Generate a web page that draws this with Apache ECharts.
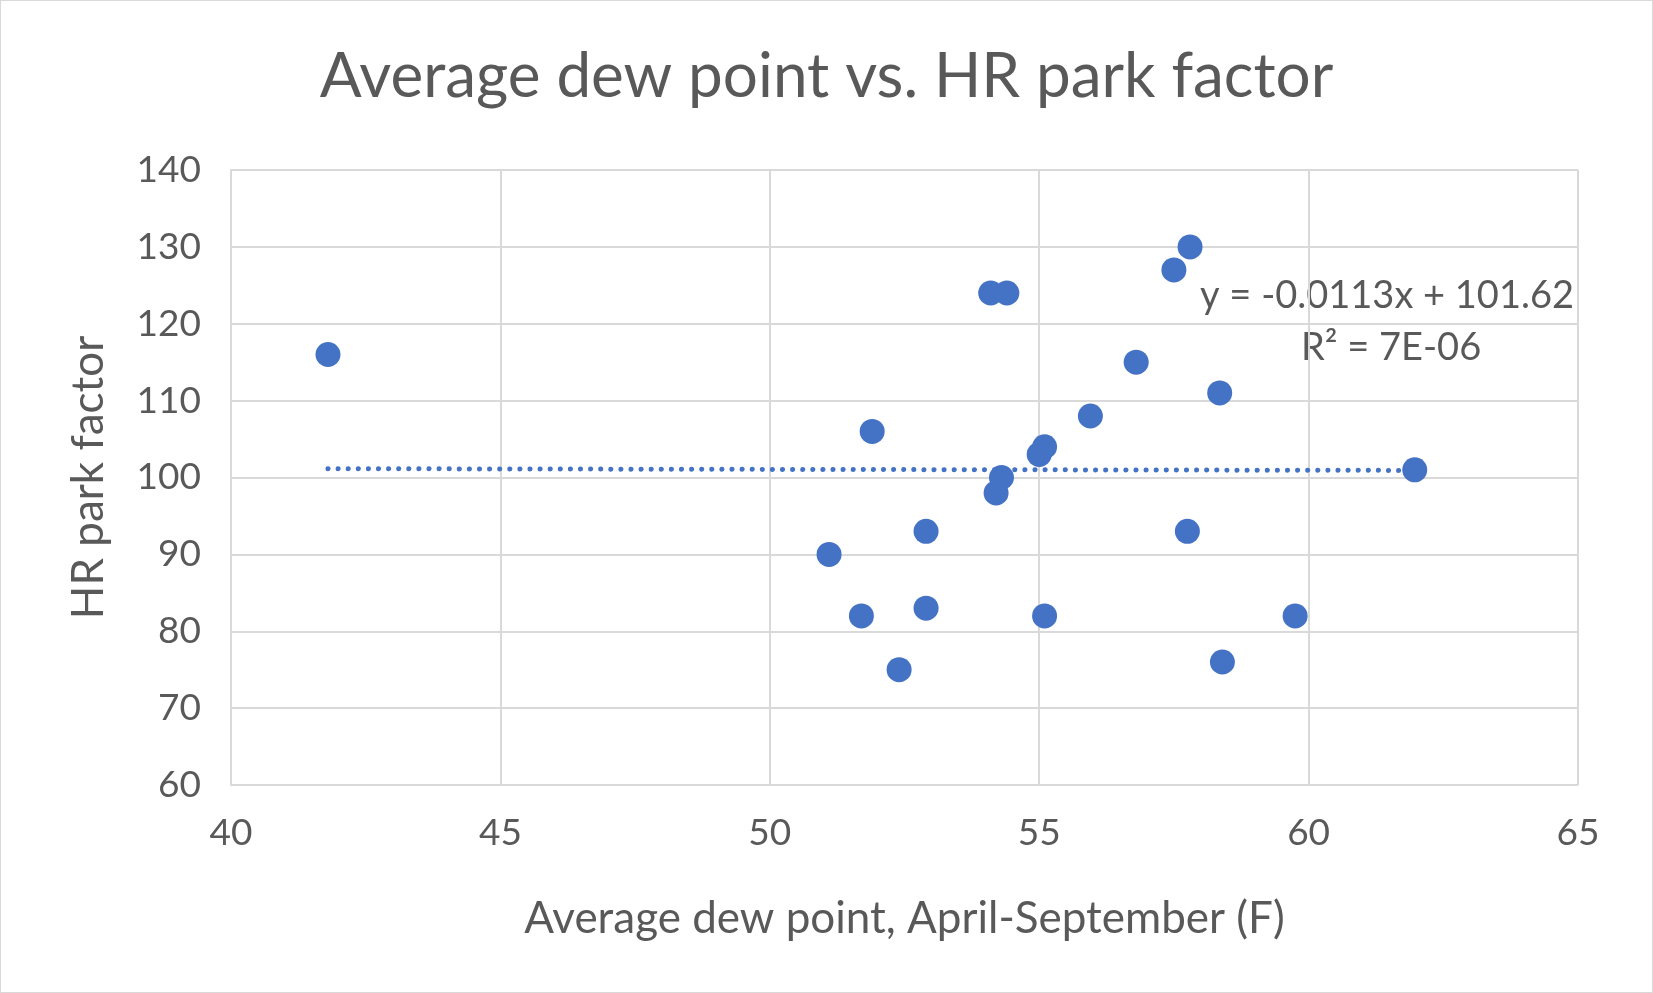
<!DOCTYPE html>
<html><head><meta charset="utf-8">
<script src="https://cdn.jsdelivr.net/npm/echarts@6/dist/echarts.min.js"></script>
<style>html,body{margin:0;background:#fff}#c{width:1651px;height:991px;border:1px solid #d9d9d9}</style>
</head><body><div id="c"></div>
<script>
var dewPoint = [41.8, 51.9, 51.1, 51.7, 52.4, 52.9, 52.9, 54.1, 54.4, 54.2, 54.3, 55.1, 55.0, 55.1, 55.95, 56.8, 57.5, 57.8, 57.75, 58.35, 58.4, 59.75, 61.97];
var hrFactor = [116, 106, 90, 82, 75, 93, 83, 124, 124, 98, 100, 82, 103, 104, 108, 115, 127, 130, 93, 111, 76, 82, 101];
var slope = -0.0113, intercept = 101.62;
var trendX = [41.8, 62];

var pts = dewPoint.map(function (x, i) { return [x, hrFactor[i]]; });
var trend = trendX.map(function (x) { return [x, slope * x + intercept]; });
var font = 'Lato, sans-serif';
var chart = echarts.init(document.getElementById('c'));
chart.setOption({
  backgroundColor: '#fff',
  animation: false,
  title: { text: 'Average dew point vs. HR park factor', left: 'center', top: 40,
    textStyle: { fontSize: 62, fontWeight: 'normal', color: '#595959', fontFamily: font } },
  grid: { left: 230, right: 74, top: 169, bottom: 207 },
  xAxis: { type: 'value', min: 40, max: 65, interval: 5,
    name: 'Average dew point, April-September (F)', nameLocation: 'middle', nameGap: 112,
    nameTextStyle: { fontSize: 44, color: '#595959', fontFamily: font },
    axisLine: { show: false }, axisTick: { show: false },
    axisLabel: { fontSize: 37, color: '#595959', margin: 30, fontFamily: font },
    splitLine: { lineStyle: { color: '#d9d9d9', width: 2 } } },
  yAxis: { type: 'value', min: 60, max: 140, interval: 10,
    name: 'HR park factor', nameLocation: 'middle', nameGap: 120,
    nameTextStyle: { fontSize: 44, color: '#595959', fontFamily: font },
    axisLine: { show: true, lineStyle: { color: '#d9d9d9', width: 2 } }, axisTick: { show: false },
    axisLabel: { fontSize: 37, color: '#595959', margin: 30, fontFamily: font },
    splitLine: { lineStyle: { color: '#d9d9d9', width: 2 } } },
  series: [
    { type: 'line', data: trend, showSymbol: false, silent: true,
      lineStyle: { color: '#4472C4', width: 5, type: [0.1, 10], cap: 'round' } },
    { type: 'scatter', data: pts, symbolSize: 25, itemStyle: { color: '#4472C4', opacity: 1 } }
  ],
  graphic: [
    { type: 'text', right: 78, top: 276, style: { text: 'y = -0.0113x + 101.62', font: '38px Lato, sans-serif', fill: '#595959' } },
    { type: 'text', left: 1300, top: 328, style: { text: 'R² = 7E-06', font: '38px Lato, sans-serif', fill: '#595959' } }
  ]
});
</script></body></html>
